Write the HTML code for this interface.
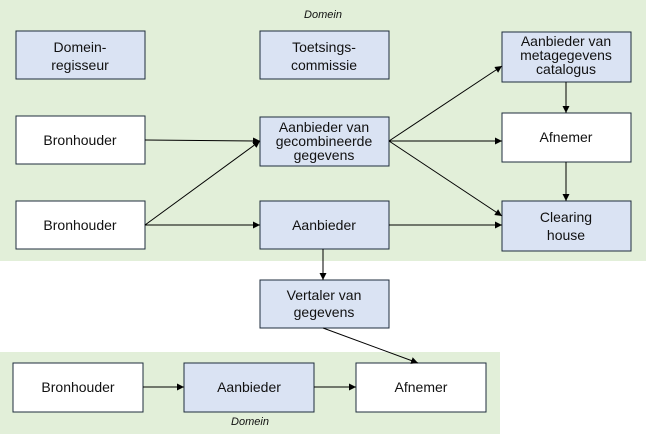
<!DOCTYPE html>
<html><head><style>
body{margin:0;width:646px;height:438px;background:#fff;overflow:hidden}
svg text{font-family:"Liberation Sans",sans-serif;font-size:14px;fill:#111}
</style></head><body>
<svg width="646" height="438" viewBox="0 0 646 438" xmlns="http://www.w3.org/2000/svg">
<defs><marker id="a" markerWidth="8" markerHeight="8" refX="7" refY="4" orient="auto" markerUnits="userSpaceOnUse"><path d="M0,0.5 L7,4 L0,7.5z" fill="#000"/></marker></defs>
<rect x="0" y="0" width="646" height="261" fill="#e2efd9"/>
<rect x="0" y="352" width="500" height="82" fill="#e2efd9"/>
<text x="323" y="18" text-anchor="middle" font-style="italic" style="font-size:11px">Domein</text>
<text x="250" y="425" text-anchor="middle" font-style="italic" style="font-size:11px">Domein</text>
<g stroke="#1f2d3d" stroke-width="1">
<rect x="16" y="31" width="129" height="48" fill="#dae3f3"/>
<rect x="260" y="31" width="129" height="48" fill="#dae3f3"/>
<rect x="502" y="32" width="129" height="50" fill="#dae3f3"/>
<rect x="16" y="116" width="129" height="48" fill="#fff"/>
<rect x="260" y="117" width="129" height="49" fill="#dae3f3"/>
<rect x="502" y="113" width="129" height="49" fill="#fff"/>
<rect x="16" y="201" width="129" height="48" fill="#fff"/>
<rect x="260" y="201" width="129" height="48" fill="#dae3f3"/>
<rect x="502" y="201" width="129" height="50" fill="#dae3f3"/>
<rect x="260" y="280" width="129" height="48" fill="#dae3f3"/>
<rect x="13" y="363" width="130" height="49" fill="#fff"/>
<rect x="184" y="363" width="130" height="49" fill="#dae3f3"/>
<rect x="356" y="363" width="130" height="49" fill="#fff"/>
</g>
<g stroke="#000" stroke-width="1" marker-end="url(#a)">
<line x1="145" y1="140" x2="260" y2="141"/>
<line x1="145" y1="225" x2="260" y2="141"/>
<line x1="145" y1="225" x2="260" y2="225"/>
<line x1="389" y1="141" x2="502" y2="66"/>
<line x1="389" y1="141" x2="502" y2="141"/>
<line x1="389" y1="141" x2="502" y2="216"/>
<line x1="566" y1="82" x2="566" y2="113"/>
<line x1="566" y1="162" x2="566" y2="201"/>
<line x1="389" y1="225" x2="502" y2="225"/>
<line x1="323" y1="249" x2="323" y2="280"/>
<line x1="323" y1="328" x2="418" y2="363"/>
<line x1="143" y1="387" x2="184" y2="387"/>
<line x1="314" y1="387" x2="356" y2="387"/>
</g>
<g text-anchor="middle">
<text x="80" y="52">Domein-</text><text x="80" y="70">regisseur</text>
<text x="324" y="52">Toetsings-</text><text x="324" y="70">commissie</text>
<text x="566" y="46">Aanbieder van</text><text x="566" y="60">metagegevens</text><text x="566" y="74">catalogus</text>
<text x="80" y="145">Bronhouder</text>
<text x="324" y="132">Aanbieder van</text><text x="324" y="146">gecombineerde</text><text x="324" y="160">gegevens</text>
<text x="566" y="142">Afnemer</text>
<text x="80" y="230">Bronhouder</text>
<text x="324" y="230">Aanbieder</text>
<text x="566" y="222">Clearing</text><text x="566" y="240">house</text>
<text x="324" y="300">Vertaler van</text><text x="324" y="317">gegevens</text>
<text x="78" y="392">Bronhouder</text>
<text x="249" y="392">Aanbieder</text>
<text x="421" y="392">Afnemer</text>
</g>
</svg>
</body></html>
